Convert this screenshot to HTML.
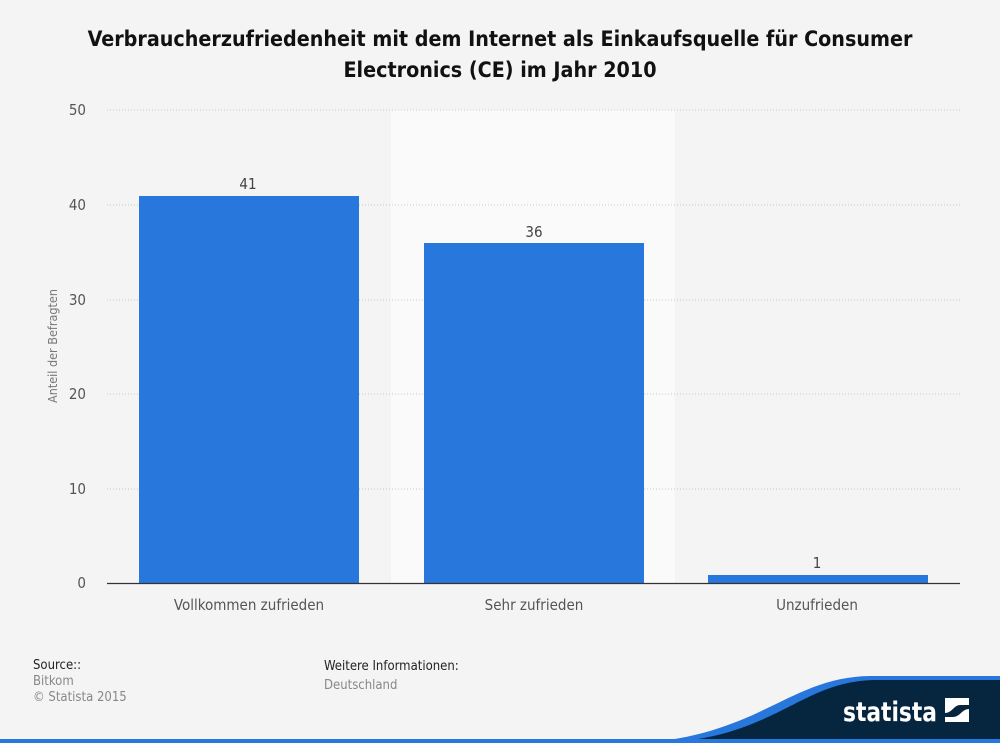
<!DOCTYPE html>
<html><head><meta charset="utf-8"><style>
body{margin:0;width:1000px;height:743px;background:#f4f4f4;overflow:hidden;position:relative;font-family:"DejaVu Sans Condensed","DejaVu Sans","Liberation Sans",sans-serif;}
.t{position:absolute;white-space:nowrap}
</style></head><body>
<div class="t" style="left:0;width:1000px;top:24px;text-align:center;font-weight:bold;font-size:21.3px;line-height:31px;color:#111;white-space:normal">Verbraucherzufriedenheit mit dem Internet als Einkaufsquelle für Consumer<br>Electronics (CE) im Jahr 2010</div>
<svg width="1000" height="743" style="position:absolute;left:0;top:0" font-family="DejaVu Sans Condensed, DejaVu Sans, sans-serif">
<rect x="391" y="110" width="284" height="473" fill="#fafafa"/>
<g stroke="#c8c8c8" stroke-dasharray="1,2">
<line x1="107" x2="960" y1="110" y2="110"/><line x1="107" x2="960" y1="205" y2="205"/>
<line x1="107" x2="960" y1="300" y2="300"/><line x1="107" x2="960" y1="394" y2="394"/>
<line x1="107" x2="960" y1="489" y2="489"/></g>
<g fill="#2877dd">
<rect x="139" y="196" width="220" height="387"/>
<rect x="424" y="243" width="220" height="340"/>
<rect x="708" y="575" width="220" height="8"/></g>
<line x1="107" x2="960" y1="583.5" y2="583.5" stroke="#333" stroke-width="1.2"/>
<g font-size="15" fill="#555" text-anchor="end">
<text x="86" y="115">50</text><text x="86" y="210">40</text><text x="86" y="305">30</text>
<text x="86" y="399">20</text><text x="86" y="494">10</text><text x="86" y="588">0</text></g>
<g font-size="15" fill="#444" text-anchor="middle">
<text x="248" y="189">41</text><text x="534" y="237">36</text><text x="817" y="568">1</text></g>
<g font-size="15" fill="#555" text-anchor="middle">
<text x="249" y="610">Vollkommen zufrieden</text><text x="534" y="610">Sehr zufrieden</text><text x="817" y="610">Unzufrieden</text></g>
<text transform="translate(57,346) rotate(-90)" font-size="12.5" fill="#777" text-anchor="middle">Anteil der Befragten</text>
<text x="33" y="669" font-size="13" fill="#222">Source::</text>
<text x="33" y="685" font-size="13" fill="#888">Bitkom</text>
<text x="33" y="701" font-size="13" fill="#888">© Statista 2015</text>
<text x="324" y="670" font-size="13" fill="#222">Weitere Informationen:</text>
<text x="324" y="689" font-size="13" fill="#888">Deutschland</text>
<path d="M640,743 C760,735 790,677 870,676 L1000,676 L1000,743 Z" fill="#2877dd"/>
<path d="M660,743 C775,738 800,681 875,680 L1000,680 L1000,743 Z" fill="#062640"/>
<rect x="0" y="739" width="1000" height="4" fill="#2877dd"/>
<text x="843" y="721" font-size="27" font-weight="bold" fill="#fff" textLength="94" lengthAdjust="spacingAndGlyphs">statista</text>
<rect x="945" y="698" width="24" height="24" fill="#fff"/>
<path d="M945,713 C952,713 954,705 960,705 L969,705 L969,709 C962,709 960,717 953,717 L945,717 Z" fill="#062640"/>
</svg>
</body></html>
